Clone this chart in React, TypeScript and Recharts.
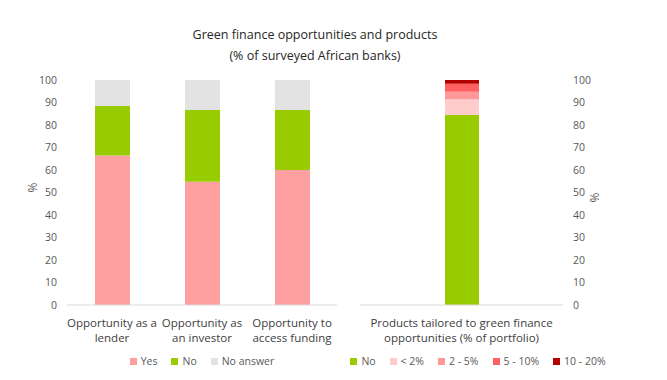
import { Bar, BarChart, Legend, XAxis, YAxis } from 'recharts'

const opportunityCats = ['Opportunity as a lender', 'Opportunity as an investor', 'Opportunity to access funding']
const yesVals = [66.5, 54.8, 60.0]
const noVals = [22.0, 31.9, 26.7]
const noAnswerVals = [11.5, 13.3, 13.3]

const productCats = ['Products tailored to green finance opportunities (% of portfolio)']
const prodNo = [84.5]
const prodUnder2 = [6.9]
const prod2to5 = [3.4]
const prod5to10 = [3.5]
const prod10to20 = [1.7]

const yTicks = [0, 10, 20, 30, 40, 50, 60, 70, 80, 90, 100]

const leftSeries = [
  { key: 'yes', name: 'Yes', color: '#ffa0a0' },
  { key: 'no', name: 'No', color: '#99cc00' },
  { key: 'noAnswer', name: 'No answer', color: '#e3e3e3' },
]
const rightSeries = [
  { key: 'no', name: 'No', color: '#99cc00' },
  { key: 'under2', name: '< 2%', color: '#ffcccc' },
  { key: 'p2to5', name: '2 - 5%', color: '#ff9999' },
  { key: 'p5to10', name: '5 - 10%', color: '#ff6161' },
  { key: 'p10to20', name: '10 - 20%', color: '#b30000' },
]

const font = '"Open Sans", sans-serif'
const tickColor = '#595959'

const leftData = opportunityCats.map((name, i) => ({ name, yes: yesVals[i], no: noVals[i], noAnswer: noAnswerVals[i] }))
const rightData = productCats.map((name, i) => ({
  name, no: prodNo[i], under2: prodUnder2[i], p2to5: prod2to5[i], p5to10: prod5to10[i], p10to20: prod10to20[i],
}))

function wrap(text: string, max: number) {
  const lines: string[] = []
  let cur = ''
  for (const w of text.split(' ')) {
    const next = cur ? cur + ' ' + w : w
    if (next.length > max && cur) { lines.push(cur); cur = w } else cur = next
  }
  if (cur) lines.push(cur)
  return lines
}

function WrapTick({ x, y, payload, max }: { x?: number; y?: number; payload?: { value: string }; max: number }) {
  const lines = wrap(payload?.value ?? '', max)
  return <text x={x} y={y} textAnchor="middle" fill="#404040" fontSize={11.5} fontFamily={font}>
    {lines.map((l, i) => <tspan key={i} x={x} dy={i === 0 ? 14 : 15}>{l}</tspan>)}
  </text>
}

function LegendBox({ items }: { items: { name: string; color: string }[] }) {
  return <div style={{ display: 'flex', justifyContent: 'center', whiteSpace: 'nowrap', gap: 14, fontSize: 10.5, color: tickColor, fontFamily: font, lineHeight: '18px' }}>
    {items.map((s) => <span key={s.name} style={{ display: 'inline-flex', alignItems: 'center' }}>
      <i style={{ display: 'inline-block', width: 7, height: 7, background: s.color, marginRight: 4 }} />{s.name}
    </span>)}
  </div>
}

export default function App() {
  return <div style={{ position: 'absolute', left: 0, top: 0, width: 667, height: 380, background: '#fff', fontFamily: font }}>
    <div style={{ position: 'absolute', left: 0, width: 630, top: 24, textAlign: 'center', fontSize: 12.5, lineHeight: '21px', color: '#262626' }}>
      Green finance opportunities and products<br />(% of surveyed African banks)
    </div>
    <div style={{ position: 'absolute', left: 0, top: 0 }}>
      <BarChart width={350} height={380} data={leftData} margin={{ top: 80, right: 13, bottom: 10, left: 20 }} barSize={35}>
        <XAxis dataKey="name" axisLine={{ stroke: '#d9d9d9' }} tickLine={false} height={47} interval={0} tick={<WrapTick max={16} />} />
        <YAxis domain={[0, 100]} ticks={yTicks} width={47} axisLine={false} tickLine={false} tickMargin={4}
          tick={{ fontSize: 10.5, fill: tickColor, fontFamily: font }}
          label={{ value: '%', angle: -90, position: 'insideLeft', offset: 13, fill: tickColor, fontSize: 12, fontFamily: font }} />
        <Legend content={<LegendBox items={leftSeries} />} wrapperStyle={{ left: 67, width: 270 }} />
        {leftSeries.map((s) => <Bar key={s.key} dataKey={s.key} name={s.name} stackId="a" fill={s.color} isAnimationActive={false} />)}
      </BarChart>
    </div>
    <div style={{ position: 'absolute', left: 340, top: 0 }}>
      <BarChart width={327} height={380} data={rightData} margin={{ top: 80, right: 54, bottom: 10, left: 20 }} barSize={34}>
        <XAxis dataKey="name" axisLine={{ stroke: '#d9d9d9' }} tickLine={false} height={47} interval={0} tick={<WrapTick max={34} />} />
        <YAxis orientation="right" domain={[0, 100]} ticks={yTicks} width={50} axisLine={false} tickLine={false} tickMargin={4}
          tick={{ fontSize: 10.5, fill: tickColor, fontFamily: font, textAnchor: 'start' }}
          label={{ value: '%', angle: -90, position: 'insideRight', offset: 18, fill: tickColor, fontSize: 12, fontFamily: font }} />
        <Legend content={<LegendBox items={rightSeries} />} wrapperStyle={{ left: 0, width: 276 }} />
        {rightSeries.map((s) => <Bar key={s.key} dataKey={s.key} name={s.name} stackId="b" fill={s.color} isAnimationActive={false} />)}
      </BarChart>
    </div>
  </div>
}
